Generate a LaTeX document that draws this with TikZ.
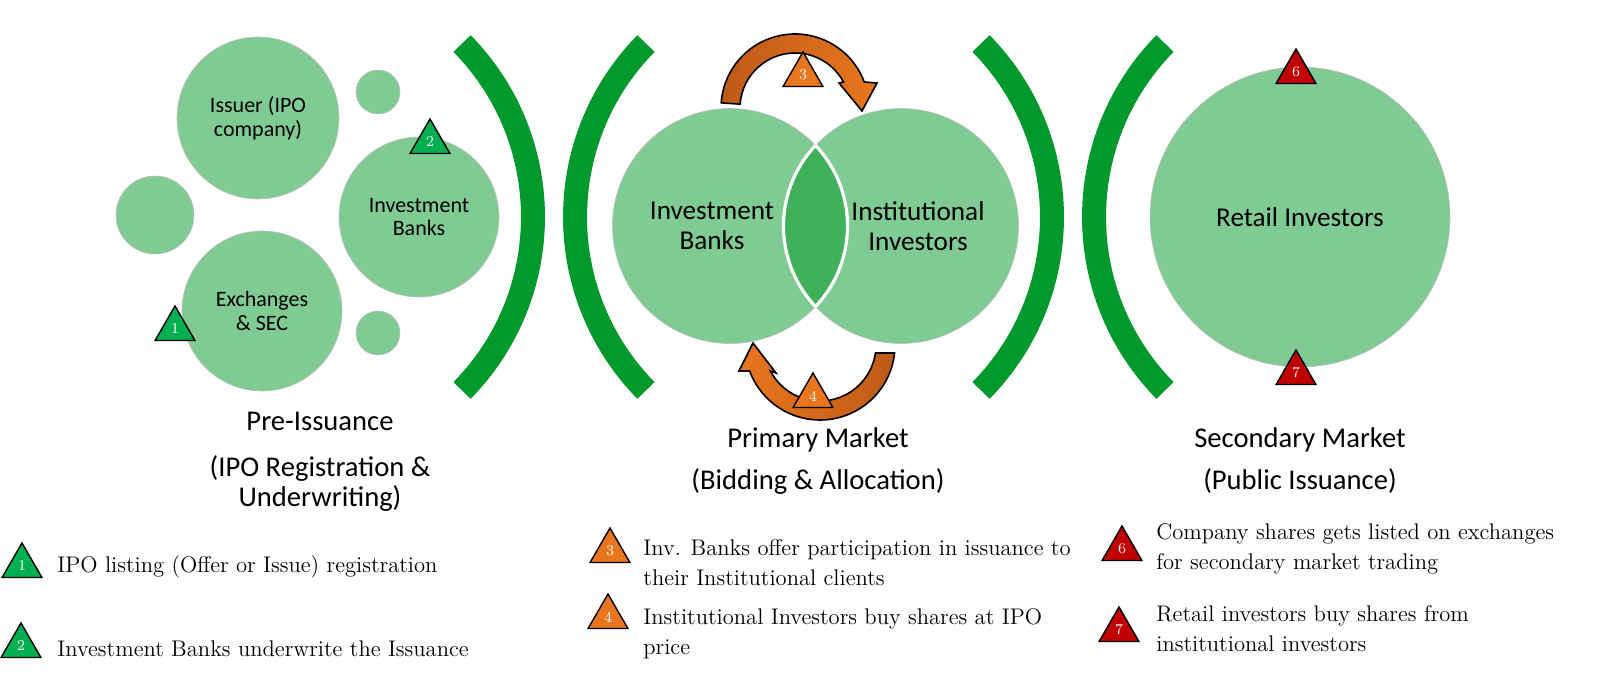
\documentclass[tikz,border=0pt]{standalone}
\usepackage{fontspec}
\newfontfamily\calibri{Carlito}
\usetikzlibrary{shapes.geometric}

\definecolor{bubblegreen}{HTML}{80CB93}
\definecolor{lensgreen}{HTML}{40B05B}
\definecolor{bracketgreen}{HTML}{02992C}
\definecolor{flaggreen}{HTML}{00B050}
\definecolor{flagorange}{HTML}{E8761E}
\definecolor{flagred}{HTML}{C00000}
\definecolor{darkorange}{HTML}{BE5A18}

\newcommand\smallfont{\calibri\fontsize{11}{11.8}\selectfont}
\newcommand\bigfont{\calibri\fontsize{13.6}{15}\selectfont}
\newcommand\headfont{\calibri\fontsize{14.3}{15}\selectfont}
\newcommand\notefont{\fontsize{11.3}{15}\selectfont}

\begin{document}
\begin{tikzpicture}[x=0.5pt,y=0.5pt,
  bubble/.style={circle,fill=bubblegreen,draw=black!25,line width=0.3pt,
    inner sep=0pt,minimum size=#1,align=center,font=\smallfont},
  bracket/.style={draw=bracketgreen,line width=12pt},
  flag/.style={regular polygon,regular polygon sides=3,fill=#1,draw=black,
    line width=0.7pt,minimum size=23pt,inner sep=0pt,text=white,
    font=\fontsize{7.5}{8}\selectfont},
  swoosh/.style={draw=black,line width=0.8pt},
  heading/.style={anchor=base,align=center,inner sep=0pt,font=\headfont},
  note/.style={anchor=base west,align=left,inner sep=0pt,font=\notefont}]
\useasboundingbox (0,0) rectangle (1600,-680);
% Centres of the four brackets
\coordinate (b1) at (285.5,-217);
\coordinate (b2) at (822.5,-217);
\coordinate (b3) at (804.5,-217);
\coordinate (b4) at (1341.5,-217);
% Thick green brackets between the stages
\draw[bracket] (b1) ++(44.5:247.5) arc[start angle=44.5,end angle=-44.5,radius=247.5];
\draw[bracket] (b2) ++(135.5:247.5) arc[start angle=135.5,end angle=224.5,radius=247.5];
\draw[bracket] (b3) ++(44.5:247.5) arc[start angle=44.5,end angle=-44.5,radius=247.5];
\draw[bracket] (b4) ++(135.5:247.5) arc[start angle=135.5,end angle=224.5,radius=247.5];
% Pre-issuance bubbles
\node[bubble=81pt] (issuer) at (258,-118) {Issuer (IPO\\company)};
\node[bubble=22pt] (dottop) at (378,-92) {};
\node[bubble=39pt] (dotleft) at (155,-215) {};
\node[bubble=80pt] (ibank) at (419,-217) {Investment\\Banks};
\node[bubble=80pt] (exch) at (262,-311) {Exchanges\\\& SEC};
\node[bubble=22pt] (dotbot) at (378,-333) {};
% Primary market Venn
\node[bubble=117.5pt] (banks) at (730,-226) {};
\node[bubble=117.5pt] (inst) at (901,-226) {};
\begin{scope}
  \clip (banks.center) circle[radius=117.5];
  \filldraw[fill=lensgreen,draw=white,line width=1.6pt] (inst.center) circle[radius=117.5];
\end{scope}
\begin{scope}
  \clip (inst.center) circle[radius=117.5];
  \draw[white,line width=1.6pt] (banks.center) circle[radius=117.5];
\end{scope}
\node[align=center,font=\bigfont] (bankname) at (712,-226) {Investment\\Banks};
\node[align=center,font=\bigfont] (instname) at (918,-226) {Institutional\\Investors};
% Secondary market
\node[bubble=150pt,font=\bigfont] (retail) at (1300,-217) {Retail Investors};
% Curved arrows round the Venn
\coordinate (c1) at (795,-108);
\coordinate (c2) at (820,-345);
\shadedraw[swoosh,left color=darkorange,right color=flagorange]
  ([shift={(176:55)}]c1) arc[start angle=176,end angle=28.2,radius=55]
  -- (839,-83) -- (862,-111) -- (877,-83)
  -- ([shift={(20.6:74)}]c1) arc[start angle=20.6,end angle=176,radius=74] -- cycle;
\shadedraw[swoosh,left color=flagorange,right color=darkorange]
  ([shift={(-6.1:75)}]c2) arc[start angle=-6.1,end angle=-159.7,radius=75]
  -- (739,-371) -- (753,-343) -- (776,-373)
  -- ([shift={(-152.3:56)}]c2) arc[start angle=-152.3,end angle=-8.2,radius=56] -- cycle;
% Step flags on the picture
\node[flag=flaggreen] (f1) at (175,-329) {1};
\node[flag=flaggreen] (f2) at (430,-142) {2};
\node[flag=flagorange] (f3) at (803,-75) {3};
\node[flag=flagorange] (f4) at (813,-396) {4};
\node[flag=flagred] (f6) at (1296,-72) {6};
\node[flag=flagred] (f7) at (1296,-373) {7};
% Stage headings
\node[heading] (pre) at (320,-430) {Pre-Issuance};
\node[heading] (presub) at (320,-506) {(IPO Registration \&\\Underwriting)};
\node[heading] (prim) at (818,-447) {Primary Market};
\node[heading] (primsub) at (818,-489) {(Bidding \& Allocation)};
\node[heading] (sec) at (1300,-447) {Secondary Market};
\node[heading] (secsub) at (1300,-489) {(Public Issuance)};
% Legend
\node[flag=flaggreen] (l1) at (22,-566) {1};
\node[note] (n1) at (57,-572) {IPO listing (Offer or Issue) registration};
\node[flag=flaggreen] (l2) at (21,-646) {2};
\node[note] (n2) at (57,-656) {Investment Banks underwrite the Issuance};
\node[flag=flagorange] (l3) at (610,-551) {3};
\node[note] (n3) at (643,-585) {Inv. Banks offer participation in issuance to\\their Institutional clients};
\node[flag=flagorange] (l4) at (608,-617) {4};
\node[note] (n4) at (643,-654) {Institutional Investors buy shares at IPO\\price};
\node[flag=flagred] (l6) at (1122,-549) {6};
\node[note] (n6) at (1156,-569) {Company shares gets listed on exchanges\\for secondary market trading};
\node[flag=flagred] (l7) at (1119,-630) {7};
\node[note] (n7) at (1156,-651) {Retail investors buy shares from\\institutional investors};
\end{tikzpicture}
\end{document}
